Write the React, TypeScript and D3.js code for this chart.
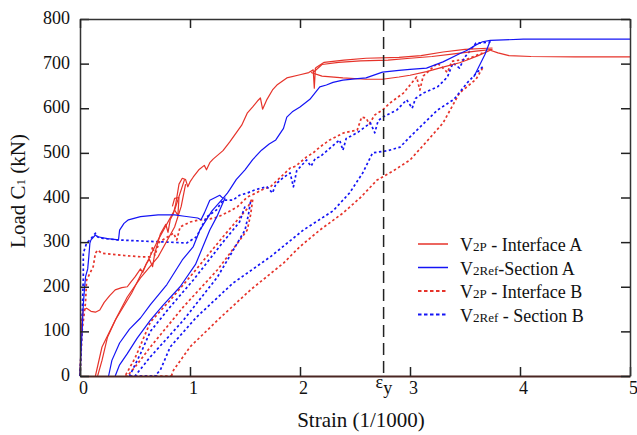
import React, { useRef, useEffect } from 'react';
import * as d3 from 'd3';

type Pt = [number, number];

// strain (1/1000), load (kN)
const xTicks = [0, 1, 2, 3, 4, 5];
const yTicks = [0, 100, 200, 300, 400, 500, 600, 700, 800];
const epsY = 2.76;

// V2P - Interface A (red, solid)
const redA_env: Pt[] = [[0,0],[0.005,40],[0.01,90],[0.02,130],[0.03,148],[0.06,152],[0.1,145],[0.14,143],[0.18,148],[0.22,165],[0.27,180],[0.32,193],[0.38,198],[0.43,200],[0.46,210],[0.5,222],[0.55,240],[0.57,232],[0.6,250],[0.63,262],[0.66,245],[0.68,275],[0.73,318],[0.78,340],[0.8,322],[0.82,350],[0.85,365],[0.87,385],[0.9,430],[0.93,443],[0.96,440],[0.98,424],[1.0,435],[1.03,446],[1.08,462],[1.13,472],[1.15,462],[1.18,478],[1.21,486],[1.3,505],[1.36,524],[1.42,545],[1.47,562],[1.52,589],[1.57,603],[1.62,618],[1.64,623],[1.66,598],[1.7,620],[1.75,641],[1.79,652],[1.88,668],[2.0,675],[2.08,680],[2.12,686],[2.13,645],[2.14,690]];
const redA_up1: Pt[] = [[2.12,680],[2.2,698],[2.35,703],[2.55,706],[2.8,708],[3.0,712],[3.2,716],[3.4,722],[3.6,728],[3.75,732]];
const redA_up2: Pt[] = [[2.14,690],[2.22,703],[2.4,708],[2.6,712],[2.9,714],[3.1,718],[3.3,726],[3.5,732],[3.75,735]];
const redA_low: Pt[] = [[2.1,680],[2.2,672],[2.39,668],[2.6,665],[2.75,665],[2.9,670],[3.0,674],[3.15,682],[3.3,692],[3.45,702],[3.52,708],[3.62,718],[3.73,730]];
const redA_tail: Pt[] = [[3.73,730],[3.8,724],[3.9,718],[4.1,716],[4.5,715],[5.0,715]];
const redA_r1: Pt[] = [[0.14,0],[0.2,65],[0.32,125],[0.47,186],[0.6,250],[0.71,305],[0.86,372],[0.95,440]];
const redA_r2: Pt[] = [[0.16,0],[0.2,35],[0.25,87],[0.33,130],[0.43,177],[0.55,220],[0.71,267],[0.86,334],[0.92,380],[0.96,430]];
const redA_jag: Pt[] = [[0.84,380],[0.86,398],[0.9,400],[0.89,360],[0.86,372]];

// V2Ref - Section A (blue, solid)
const blueA_env: Pt[] = [[0,0],[0.01,60],[0.02,103],[0.03,160],[0.04,193],[0.05,222],[0.07,240],[0.08,267],[0.09,298],[0.1,305],[0.14,316],[0.16,312],[0.25,308],[0.35,305],[0.36,327],[0.4,342],[0.44,350],[0.55,357],[0.71,361],[0.86,361],[0.95,358],[1.07,354],[1.1,350],[1.13,365],[1.18,394],[1.23,400],[1.27,405],[1.3,398],[1.34,410],[1.36,417],[1.42,440],[1.5,462],[1.57,485],[1.65,506],[1.72,520],[1.78,529],[1.85,555],[1.88,580],[1.93,592],[2.0,603],[2.09,620],[2.18,648],[2.24,652],[2.3,658],[2.39,663],[2.5,666],[2.6,668],[2.75,681],[2.9,685],[3.0,687],[3.15,690],[3.3,704],[3.45,722],[3.52,730],[3.6,742],[3.66,749],[3.73,752],[3.85,753],[4.03,755],[5.0,755]];
const blueA_r1: Pt[] = [[0.26,0],[0.29,35],[0.36,74],[0.45,105],[0.55,130],[0.64,160],[0.79,205],[0.93,260],[1.03,290],[1.09,327],[1.2,370],[1.3,398]];
const blueA_r2: Pt[] = [[0.32,0],[0.36,25],[0.43,50],[0.52,85],[0.64,125],[0.76,160],[0.91,200],[1.05,250],[1.18,327],[1.25,360],[1.32,400]];
const blueA_unl: Pt[] = [[3.73,752],[3.68,720],[3.62,690],[3.58,670]];

// V2P - Interface B (red, dotted)
const redB_env: Pt[] = [[0,0],[0.02,103],[0.05,164],[0.06,215],[0.12,245],[0.14,275],[0.16,282],[0.2,275],[0.4,270],[0.56,267],[0.64,267],[0.66,290],[0.68,270],[0.72,300],[0.85,320],[0.88,305],[0.91,334],[1.0,345],[1.09,350],[1.18,352],[1.25,356],[1.35,368],[1.43,379],[1.52,401],[1.6,410],[1.66,418],[1.73,424],[1.8,440],[1.91,466],[1.96,470],[2.06,491],[2.12,500],[2.18,513],[2.27,529],[2.4,545],[2.52,551],[2.56,580],[2.6,578],[2.63,565],[2.68,585],[2.75,596],[2.82,612],[2.94,634],[3.06,670],[3.09,641],[3.12,672],[3.2,690],[3.25,701],[3.3,690],[3.34,680],[3.38,705],[3.45,708],[3.52,710],[3.6,718],[3.66,724]];
const redB_u1: Pt[] = [[3.66,690],[3.6,665],[3.45,634],[3.3,567],[3.15,525],[3.0,484],[2.85,460],[2.7,439],[2.55,400],[2.39,365],[2.18,327],[2.0,290],[1.85,253],[1.55,193],[1.25,125],[1.0,65],[0.85,13],[0.83,0]];
const redB_u2: Pt[] = [[1.56,395],[1.52,375],[1.45,355],[1.3,312],[1.03,231],[0.82,170],[0.64,121],[0.5,40],[0.41,0]];
const redB_u3: Pt[] = [[1.57,395],[1.55,360],[1.52,327],[1.25,238],[0.94,155],[0.64,65],[0.5,20],[0.43,0]];
const redB_zero: Pt[] = [[0.41,0],[0.85,0]];

// V2Ref - Section B (blue, dotted)
const blueB_env: Pt[] = [[0,0],[0.01,60],[0.02,140],[0.03,220],[0.03,275],[0.06,298],[0.09,305],[0.14,320],[0.16,312],[0.18,309],[0.34,305],[0.6,302],[0.8,300],[0.97,298],[1.06,312],[1.15,356],[1.24,372],[1.3,394],[1.39,394],[1.45,405],[1.52,410],[1.6,418],[1.7,424],[1.75,410],[1.78,430],[1.85,445],[1.91,455],[1.94,424],[1.97,460],[2.06,484],[2.1,470],[2.14,488],[2.18,491],[2.27,510],[2.36,529],[2.39,506],[2.42,532],[2.52,545],[2.64,567],[2.68,545],[2.71,572],[2.75,580],[2.88,596],[2.97,619],[3.02,600],[3.05,622],[3.12,634],[3.25,648],[3.3,660],[3.34,670],[3.39,701],[3.45,690],[3.5,715],[3.55,730],[3.6,746],[3.73,748]];
const blueB_u1: Pt[] = [[3.66,693],[3.52,657],[3.4,620],[3.25,596],[3.1,560],[3.0,536],[2.91,513],[2.8,505],[2.66,500],[2.57,455],[2.45,410],[2.3,370],[2.03,327],[1.73,267],[1.39,208],[1.06,132],[0.82,65],[0.73,13],[0.68,0]];
const blueB_u2: Pt[] = [[1.55,390],[1.53,360],[1.5,327],[1.25,222],[0.94,125],[0.64,43],[0.5,0]];
const blueB_u3: Pt[] = [[1.5,380],[1.45,345],[1.3,300],[1.03,215],[0.82,155],[0.64,100],[0.55,50],[0.45,0]];
const blueB_zero: Pt[] = [[0.45,0],[0.7,0]];

const red = '#e6332a';
const blue = '#1414f5';
const serif = '"Liberation Serif", "Times New Roman", Times, "DejaVu Serif", serif';

const series = [
  { label: ['V', '2P', ' - Interface A'], color: red, dash: null, segs: [redA_env, redA_up1, redA_up2, redA_low, redA_tail, redA_r1, redA_r2, redA_jag] },
  { label: ['V', '2Ref', '-Section A'], color: blue, dash: null, segs: [blueA_env, blueA_r1, blueA_r2, blueA_unl] },
  { label: ['V', '2P', ' - Interface B'], color: red, dash: '2.5,2.5', segs: [redB_env, redB_u1, redB_u2, redB_u3, redB_zero] },
  { label: ['V', '2Ref', ' - Section B'], color: blue, dash: '2.5,2.5', segs: [blueB_env, blueB_u1, blueB_u2, blueB_u3, blueB_zero] },
];

export default function App() {
  const ref = useRef<SVGSVGElement>(null);

  useEffect(() => {
    const width = 637;
    const height = 435;
    const marginTop = 19;
    const marginRight = 7;
    const marginBottom = 59;
    const marginLeft = 80;

    const svg = d3.select(ref.current);
    svg.selectAll('*').remove();

    const x = d3.scaleLinear().domain([0, 5]).range([marginLeft, width - marginRight]);
    const y = d3.scaleLinear().domain([0, 800]).range([height - marginBottom, marginTop]);

    const line = d3.line<Pt>().x(d => x(d[0])).y(d => y(d[1]));

    // curves: dotted first, solid on top
    const order = [2, 3, 0, 1];
    order.forEach(i => {
      const s = series[i];
      s.segs.forEach(seg => {
        svg.append('path')
          .attr('d', line(seg))
          .attr('fill', 'none')
          .attr('stroke', s.color)
          .attr('stroke-width', s.dash ? 1.7 : 1.2)
          .attr('stroke-dasharray', s.dash)
          .attr('stroke-linejoin', 'round');
      });
    });

    // yield strain line
    svg.append('line')
      .attr('x1', x(epsY)).attr('x2', x(epsY))
      .attr('y1', y(800)).attr('y2', y(0))
      .attr('stroke', '#222')
      .attr('stroke-width', 1.5)
      .attr('stroke-dasharray', '12,6');

    const fontSize = 18;
    svg.append('g')
      .attr('transform', `translate(0,${height - marginBottom})`)
      .call(d3.axisBottom(x).tickValues(xTicks).tickFormat(d3.format('d')).tickSize(-9).tickSizeOuter(0).tickPadding(5))
      .call(g => g.select('.domain').attr('stroke', '#4a2622').attr('stroke-width', 2))
      .call(g => g.selectAll('.tick line').attr('stroke', '#222').attr('stroke-width', 1.5))
      .call(g => g.selectAll('.tick text').style('font-size', fontSize + 'px').style('font-family', serif).attr('fill', '#111').attr('dx', 3));

    svg.append('g')
      .attr('transform', `translate(${marginLeft},0)`)
      .call(d3.axisLeft(y).tickValues(yTicks).tickFormat(d3.format('d')).tickSize(-9).tickSizeOuter(0).tickPadding(10))
      .call(g => g.select('.domain').attr('stroke', '#333').attr('stroke-width', 1.5))
      .call(g => g.selectAll('.tick line').attr('stroke', '#222').attr('stroke-width', 1.5))
      .call(g => g.selectAll('.tick text').style('font-size', fontSize + 'px').style('font-family', serif).attr('fill', '#111').attr('dy', '0.25em'));

    svg.append('g')
      .attr('transform', `translate(0,${marginTop})`)
      .call(d3.axisTop(x).tickValues(xTicks).tickSize(-9).tickSizeOuter(0).tickFormat(() => ''))
      .call(g => g.select('.domain').attr('stroke', '#333').attr('stroke-width', 1.5))
      .call(g => g.selectAll('.tick line').attr('stroke', '#222').attr('stroke-width', 1.5));

    svg.append('g')
      .attr('transform', `translate(${width - marginRight},0)`)
      .call(d3.axisRight(y).tickValues(yTicks).tickSize(-9).tickSizeOuter(0).tickFormat(() => ''))
      .call(g => g.select('.domain').attr('stroke', '#333').attr('stroke-width', 1.5))
      .call(g => g.selectAll('.tick line').attr('stroke', '#222').attr('stroke-width', 1.5));

    // epsilon_y label
    const eps = svg.append('text')
      .attr('x', x(epsY) - 8)
      .attr('y', 388)
      .style('font-family', serif)
      .style('font-size', fontSize + 'px')
      .attr('fill', '#111');
    eps.append('tspan').text('ε');
    eps.append('tspan').attr('dy', 6).text('y');

    // axis titles
    svg.append('text')
      .attr('x', 361)
      .attr('y', 427)
      .attr('text-anchor', 'middle')
      .style('font-family', serif)
      .style('font-size', '21px')
      .attr('fill', '#111')
      .text('Strain (1/1000)');

    const yt = svg.append('text')
      .attr('transform', 'translate(25,191) rotate(-90)')
      .attr('text-anchor', 'middle')
      .style('font-family', serif)
      .style('font-size', '21px')
      .attr('fill', '#111');
    yt.append('tspan').text('Load C');
    yt.append('tspan').style('font-size', '13px').text('1');
    yt.append('tspan').text(' (kN)');

    // legend
    const lg = svg.append('g').attr('transform', 'translate(418,244)');
    series.forEach((s, i) => {
      const row = lg.append('g').attr('transform', `translate(0,${i * 23.5})`);
      row.append('line')
        .attr('x1', 0).attr('x2', 30)
        .attr('stroke', s.color)
        .attr('stroke-width', s.dash ? 2.2 : 1.5)
        .attr('stroke-dasharray', s.dash ? '3.5,2.5' : null);
      const t = row.append('text').attr('x', 42).attr('y', 7)
        .style('font-family', serif)
        .style('font-size', fontSize + 'px')
        .attr('fill', '#111');
      t.append('tspan').text(s.label[0]);
      t.append('tspan').style('font-size', '13px').text(s.label[1]);
      t.append('tspan').text(s.label[2]);
    });
  }, []);

  return (
    <svg
      ref={ref}
      width={637}
      height={435}
      style={{ position: 'absolute', left: 0, top: 0, background: '#fff' }}
    />
  );
}
